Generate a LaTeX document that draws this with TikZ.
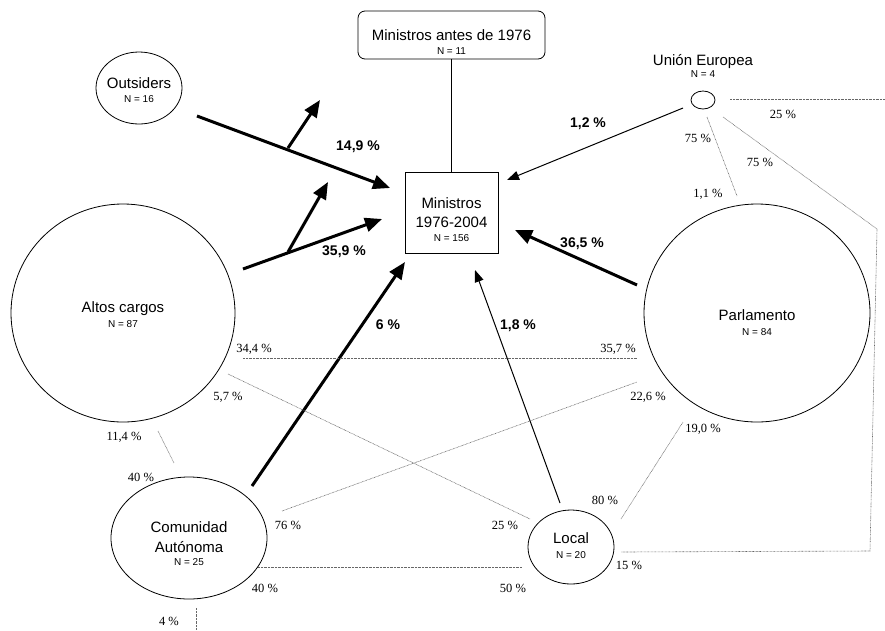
\documentclass[tikz,border=0pt]{standalone}
\usepackage{fontspec}
\setmainfont{Liberation Sans}
\newfontfamily\pctfont{Liberation Serif}
\usetikzlibrary{shapes.geometric,arrows.meta}
\begin{document}
\begin{tikzpicture}[x=1pt,y=-1pt,
  blob/.style={draw,ellipse,line width=0.8pt,inner sep=0pt},
  boxnode/.style={draw,line width=0.8pt,inner sep=0pt},
  big/.style={font=\fontsize{15}{17}\selectfont,anchor=base,inner sep=0pt},
  small/.style={font=\fontsize{10}{12}\selectfont,anchor=base,inner sep=0pt},
  boldpct/.style={font=\fontsize{14}{16}\selectfont\bfseries,anchor=base,inner sep=0pt},
  pct/.style={font=\pctfont\fontsize{12.5}{14}\selectfont,anchor=base,inner sep=0pt},
  flowthick/.style={line width=3pt,-{Triangle[length=17pt,width=14pt]}},
  flowthin/.style={line width=1pt,-{Triangle[length=12pt,width=9pt]}},
  dots/.style={line width=0.6pt,black!60,dash pattern=on 0.7pt off 0.7pt}
]
\useasboundingbox (0,0) rectangle (885,630);

% boxes
\node[boxnode,rounded corners=7pt,minimum width=187pt,minimum height=48pt] (mant) at (451.5,35) {};
\node[big] (mantT) at (451.5,40) {Ministros antes de 1976};
\node[small] (mantN) at (451.5,54) {N = 11};

\node[boxnode,minimum width=93pt,minimum height=81pt] (min) at (451.5,212.5) {};
\node[big] (minT1) at (451.5,208) {Ministros};
\node[big] (minT2) at (451.5,227) {1976-2004};
\node[small] (minN) at (451.5,241) {N = 156};

\draw[line width=0.8pt] (mant.south) -- (min.north);

% ellipses
\node[blob,minimum width=86pt,minimum height=72pt] (out) at (139,88) {};
\node[big] (outT) at (139,88) {Outsiders};
\node[small] (outN) at (139,102) {N = 16};

\node[blob,minimum width=224pt,minimum height=218pt] (alt) at (123,313) {};
\node[big] (altT) at (123,312) {Altos cargos};
\node[small] (altN) at (123,327) {N = 87};

\node[blob,minimum width=226pt,minimum height=218pt] (par) at (757,313) {};
\node[big] (parT) at (757,320) {Parlamento};
\node[small] (parN) at (757,335) {N = 84};

\node[blob,minimum width=156pt,minimum height=122pt] (ca) at (189,538) {};
\node[big] (caT1) at (189,532) {Comunidad};
\node[big] (caT2) at (189,552) {Autónoma};
\node[small] (caN) at (189,565) {N = 25};

\node[blob,minimum width=86pt,minimum height=74pt] (loc) at (571,547) {};
\node[big] (locT) at (571,543) {Local};
\node[small] (locN) at (571,558) {N = 20};

\node[blob,minimum width=24pt,minimum height=18pt] (ue) at (703,100) {};
\node[big] (ueT) at (703,65) {Unión Europea};
\node[small] (ueN) at (703,77) {N = 4};

% arrow coordinates
\coordinate (o1) at (197,116); \coordinate (o2) at (390,188);
\coordinate (ob1) at (288,148); \coordinate (ob2) at (320,100);
\coordinate (a1) at (243,269); \coordinate (a2) at (382,219);
\coordinate (ab1) at (288,252); \coordinate (ab2) at (328,182);
\coordinate (c1) at (252,486); \coordinate (c2) at (405,262);
\coordinate (l1) at (560,503); \coordinate (l2) at (475,270);
\coordinate (p1) at (637,285); \coordinate (p2) at (515,230);
\coordinate (u1) at (683,108); \coordinate (u2) at (507,180);

\draw[flowthick] (o1) -- (o2);
\draw[flowthick] (ob1) -- (ob2);
\draw[flowthick] (a1) -- (a2);
\draw[flowthick] (ab1) -- (ab2);
\draw[flowthick] (c1) -- (c2);
\draw[flowthin] (l1) -- (l2);
\draw[flowthick] (p1) -- (p2);
\draw[flowthin] (u1) -- (u2);

\node[boldpct] (b149) at (358,150) {14,9 \%};
\node[boldpct] (b359) at (344,255) {35,9 \%};
\node[boldpct] (b12) at (588,127) {1,2 \%};
\node[boldpct] (b365) at (582,247) {36,5 \%};
\node[boldpct] (b6) at (388,329) {6 \%};
\node[boldpct] (b18) at (518,329) {1,8 \%};

% dotted coordinates
\coordinate (d1a) at (730,99); \coordinate (d1b) at (885,99);
\coordinate (d2a) at (707,117); \coordinate (d2b) at (737,196);
\coordinate (d3a) at (723,117); \coordinate (d3b) at (877,229);
\coordinate (d3c) at (870,551); \coordinate (d3d) at (621,552);
\coordinate (d4a) at (243,358); \coordinate (d4b) at (637,358);
\coordinate (d5a) at (228,374); \coordinate (d5b) at (530,519);
\coordinate (d6a) at (282,511); \coordinate (d6b) at (637,382);
\coordinate (d7a) at (158,431); \coordinate (d7b) at (174,463);
\coordinate (d8a) at (258,567); \coordinate (d8b) at (522,567);
\coordinate (d9a) at (196,608); \coordinate (d9b) at (196,630);
\coordinate (d10a) at (621,519); \coordinate (d10b) at (683,422);

\draw[dots] (d1a) -- (d1b);
\draw[dots] (d2a) -- (d2b);
\draw[dots] (d3a) -- (d3b) -- (d3c) -- (d3d);
\draw[dots] (d4a) -- (d4b);
\draw[dots] (d5a) -- (d5b);
\draw[dots] (d6a) -- (d6b);
\draw[dots] (d7a) -- (d7b);
\draw[dots] (d8a) -- (d8b);
\draw[dots] (d9a) -- (d9b);
\draw[dots] (d10a) -- (d10b);

% percentages
\node[pct] (p25a) at (783,118) {25 \%};
\node[pct] (p75a) at (698,142) {75 \%};
\node[pct] (p75b) at (760,166) {75 \%};
\node[pct] (p11) at (708,197) {1,1 \%};
\node[pct] (p344) at (254,352) {34,4 \%};
\node[pct] (p57) at (228,400) {5,7 \%};
\node[pct] (p114) at (124,440) {11,4 \%};
\node[pct] (p40a) at (141,481) {40 \%};
\node[pct] (p76) at (288,529) {76 \%};
\node[pct] (p40b) at (265,592) {40 \%};
\node[pct] (p4) at (169,625) {4 \%};
\node[pct] (p357) at (618,352) {35,7 \%};
\node[pct] (p226) at (648,400) {22,6 \%};
\node[pct] (p190) at (703,432) {19,0 \%};
\node[pct] (p80) at (605,504) {80 \%};
\node[pct] (p25b) at (505,529) {25 \%};
\node[pct] (p15) at (629,569) {15 \%};
\node[pct] (p50) at (513,592) {50 \%};
\end{tikzpicture}
\end{document}
